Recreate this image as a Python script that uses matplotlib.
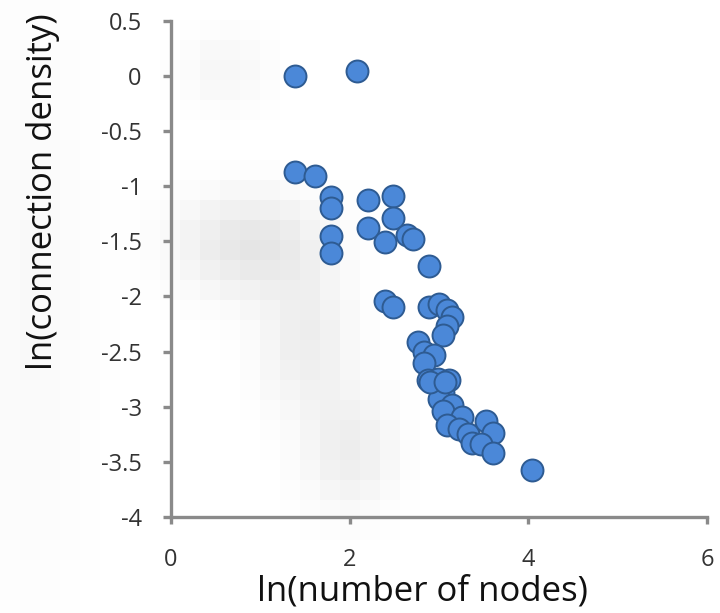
import numpy as np
import matplotlib
matplotlib.use("Agg")
import matplotlib.pyplot as plt

# ln(number of nodes)
x_vals = [1.39, 2.08, 1.39, 1.61, 1.79, 1.79, 1.79, 1.79, 2.20, 2.20,
          2.48, 2.48, 2.40, 2.64, 2.71, 2.89, 2.40, 2.48, 2.89, 3.00,
          3.09, 3.14, 3.09, 3.04, 2.77, 2.83, 2.94, 2.83, 2.88, 2.99,
          3.11, 3.04, 3.00, 2.90, 3.14, 3.04, 3.26, 3.09, 3.22, 3.33,
          3.37, 3.53, 3.61, 3.47, 3.61, 4.04, 3.07]
# ln(connection density)
y_vals = [0.00, 0.04, -0.87, -0.91, -1.10, -1.20, -1.45, -1.61, -1.13, -1.38,
          -1.09, -1.29, -1.51, -1.44, -1.48, -1.72, -2.04, -2.10, -2.10, -2.07,
          -2.12, -2.19, -2.27, -2.35, -2.41, -2.50, -2.53, -2.60, -2.76, -2.75,
          -2.76, -2.88, -2.93, -2.78, -2.98, -3.04, -3.09, -3.17, -3.20, -3.25,
          -3.33, -3.13, -3.24, -3.34, -3.42, -3.57, -2.78]

x_ticks = [0, 2, 4, 6]
y_ticks = [0.5, 0, -0.5, -1, -1.5, -2, -2.5, -3, -3.5, -4]

W, H = 720, 613
fig = plt.figure(figsize=(W / 100, H / 100), dpi=100)
fig.patch.set_facecolor("white")

# faint blurred gray backdrop (decorative artifact of the original picture)
bg = fig.add_axes([0, 0, 1, 1], zorder=0)
bs = 20
nx, ny = W // bs + 1, H // bs + 1
cx = (np.arange(nx) + 0.5) * bs
cy = (np.arange(ny) + 0.5) * bs
GX, GY = np.meshgrid(cx, cy)
blobs = [(225, 70, 45, 40, 0.035), (250, 245, 70, 50, 0.10),
         (305, 340, 45, 70, 0.07), (350, 450, 45, 60, 0.07),
         (30, 300, 60, 300, 0.025)]
dark = np.zeros_like(GX)
for bx, by, sx, sy, a in blobs:
    dark += a * np.exp(-(((GX - bx) / sx) ** 2 + ((GY - by) / sy) ** 2))
img = 1 - np.clip(dark, 0, 0.2)
bg.imshow(img, cmap="gray", vmin=0, vmax=1, interpolation="nearest",
          extent=[0, nx * bs, ny * bs, 0], aspect="auto")
bg.set_xlim(0, W)
bg.set_ylim(H, 0)
bg.axis("off")

ax = fig.add_axes([171 / W, 1 - 517 / H, (707 - 171) / W, (517 - 20.7) / H], zorder=1)
ax.patch.set_alpha(0)
ax.scatter(x_vals, y_vals, s=250, facecolor="#4b88d8", edgecolor="#2e5b92",
           linewidths=1.4, zorder=3, clip_on=False)

ax.set_xlim(0, 6)
ax.set_ylim(-4, 0.5)
ax.set_xticks(x_ticks)
ax.set_yticks(y_ticks)
ax.set_xticklabels([str(t) for t in x_ticks])
ax.set_yticklabels([("%g" % t) for t in y_ticks])

axis_col = "#8a8a8a"
for side in ["top", "right"]:
    ax.spines[side].set_visible(False)
for side in ["left", "bottom"]:
    ax.spines[side].set_color(axis_col)
    ax.spines[side].set_linewidth(2.4)
ax.tick_params(axis="y", direction="out", length=6, width=2.4, color=axis_col,
               labelsize=17, labelcolor="#333333", pad=15)
ax.tick_params(axis="x", direction="out", length=5, width=2.4, color=axis_col,
               labelsize=17, labelcolor="#333333", pad=17)
for lab in ax.get_xticklabels() + ax.get_yticklabels():
    lab.set_fontfamily("Open Sans")

fig.text(422 / W, 1 - 592 / H, "ln(number of nodes)", ha="center", va="center",
         fontsize=25, family="Open Sans", color="#111111")
fig.text(43 / W, 1 - 192 / H, "ln(connection density)", ha="center", va="center",
         rotation=90, fontsize=25, family="Open Sans", color="#111111")

fig.savefig("out.png", dpi=100)
